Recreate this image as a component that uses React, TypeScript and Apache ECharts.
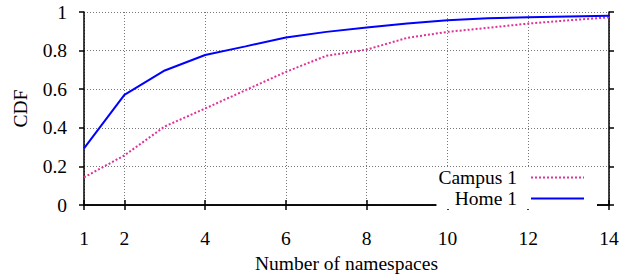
import React, { useEffect, useRef } from "react";
import * as echarts from "echarts";

const xValues = [1, 2, 3, 4, 5, 6, 7, 8, 9, 10, 11, 12, 13, 14];
const campus1 = [0.143, 0.257, 0.407, 0.5, 0.595, 0.69, 0.773, 0.805, 0.866, 0.897, 0.918, 0.94, 0.957, 0.972];
const home1 = [0.293, 0.571, 0.697, 0.777, 0.822, 0.868, 0.897, 0.92, 0.94, 0.957, 0.967, 0.973, 0.977, 0.98];
const xTicks = [1, 2, 4, 6, 8, 10, 12, 14];
const seriesNames = ["Campus 1", "Home 1"];

const FONT = "Liberation Serif";

export default function App() {
  const ref = useRef<HTMLDivElement>(null);
  useEffect(() => {
    if (!ref.current) return;
    const chart = echarts.init(ref.current, undefined, { renderer: "svg" });
    const axisLine = { show: true, lineStyle: { color: "#000", width: 1.5 } };
    const tick = { show: true, inside: false, length: 5, lineStyle: { color: "#000", width: 1.5 } };
    const split = { show: true, lineStyle: { color: "#777", width: 1, type: [1, 2] } };
    chart.setOption({
      animation: false,
      backgroundColor: "#fff",
      grid: { left: 84, right: 20, top: 12, bottom: 66, containLabel: false },
      legend: {
        orient: "vertical",
        right: 32,
        top: 167,
        align: "right",
        data: seriesNames,
        backgroundColor: "#fff",
        padding: [0, 12, 0, 2],
        itemWidth: 53,
        itemHeight: 14,
        itemGap: 0,
        itemStyle: { opacity: 0 },
        textStyle: { fontFamily: FONT, fontSize: 19.5, color: "#000", lineHeight: 21, padding: [0, 9, 0, 0] },
      },
      xAxis: [
        {
          type: "value",
          min: 1,
          max: 14,
          position: "bottom",
          name: "Number of namespaces",
          nameLocation: "middle",
          nameGap: 48,
          nameTextStyle: { fontFamily: FONT, fontSize: 19.5, color: "#000" },
          axisLine,
          axisTick: { ...tick, customValues: xTicks },
          axisLabel: { customValues: xTicks, fontFamily: FONT, fontSize: 19.5, color: "#000", margin: 23 },
          splitLine: split,
        },
        {
          type: "value",
          min: 1,
          max: 14,
          position: "top",
          axisLine,
          axisTick: { ...tick, customValues: xTicks },
          axisLabel: { show: false },
          splitLine: { show: false },
        },
      ],
      yAxis: [
        {
          type: "value",
          min: 0,
          max: 1,
          interval: 0.2,
          position: "left",
          name: "CDF",
          nameLocation: "middle",
          nameGap: 54,
          nameRotate: 90,
          nameTextStyle: { fontFamily: FONT, fontSize: 19.5, color: "#000" },
          axisLine,
          axisTick: tick,
          axisLabel: { fontFamily: FONT, fontSize: 19.5, color: "#000", margin: 17 },
          splitLine: split,
        },
        {
          type: "value",
          min: 0,
          max: 1,
          interval: 0.2,
          position: "right",
          axisLine,
          axisTick: tick,
          axisLabel: { show: false },
          splitLine: { show: false },
        },
      ],
      series: [
        {
          name: seriesNames[0],
          type: "line",
          symbol: "none",
          data: xValues.map((x, i) => [x, campus1[i]]),
          lineStyle: { color: "#dd3399", width: 2, type: [2, 2] },
          itemStyle: { color: "#dd3399" },
        },
        {
          name: seriesNames[1],
          type: "line",
          symbol: "none",
          data: xValues.map((x, i) => [x, home1[i]]),
          lineStyle: { color: "#0000ff", width: 2, type: "solid" },
          itemStyle: { color: "#0000ff" },
        },
      ],
    });
    return () => chart.dispose();
  }, []);
  return <div ref={ref} style={{ width: 629, height: 278, position: "absolute", left: 0, top: 0 }} />;
}
